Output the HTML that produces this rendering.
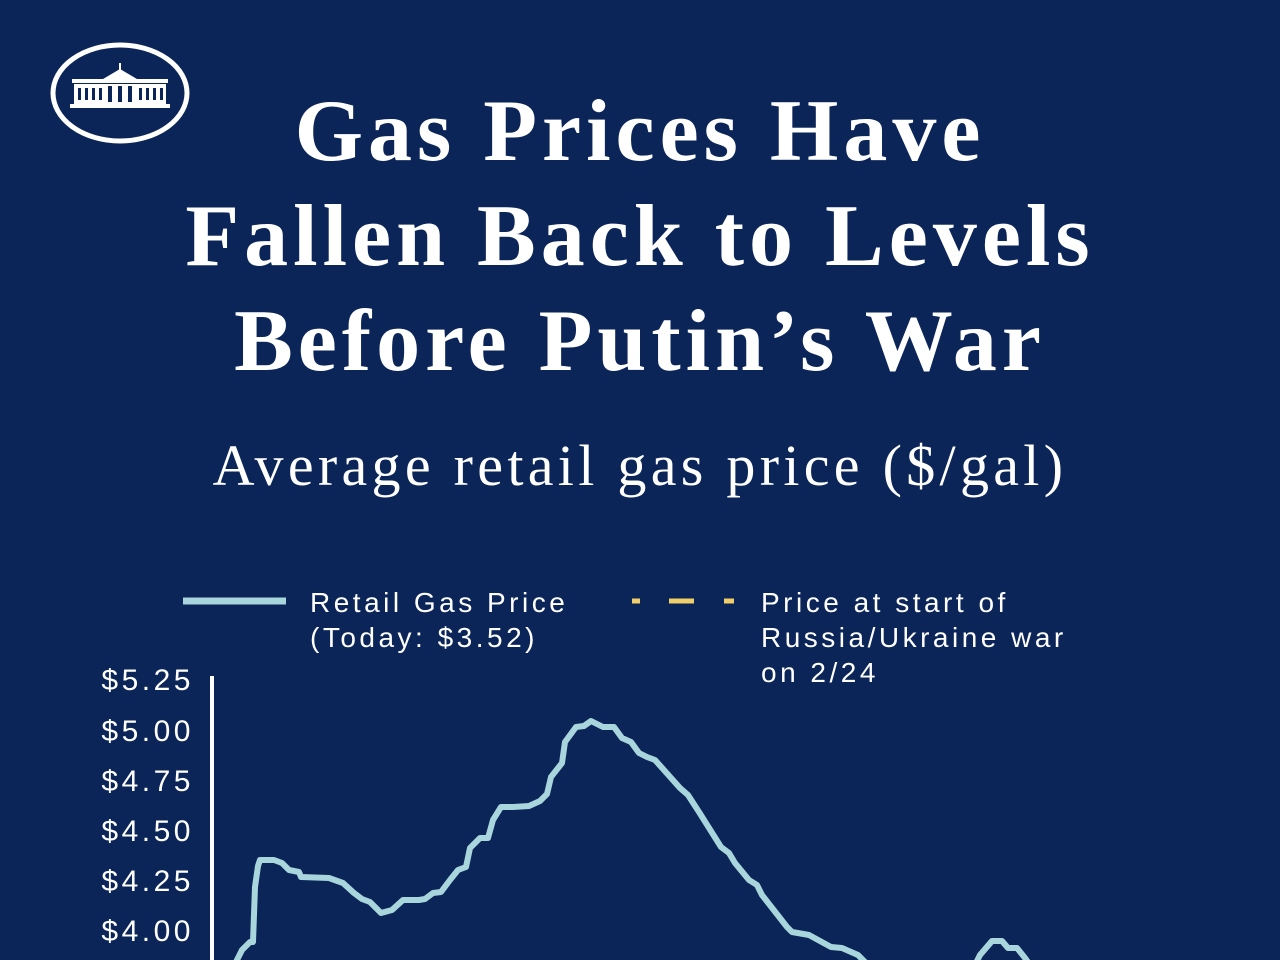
<!DOCTYPE html>
<html><head><meta charset="utf-8"><style>
body{margin:0;width:1280px;height:960px;background:#0b2559;overflow:hidden;position:relative;font-family:"Liberation Sans",sans-serif;color:#fff}
.t{position:absolute;left:0;width:1280px;text-align:center;font-family:"Liberation Serif",serif;font-weight:bold;font-size:88px;line-height:105px;top:79px;letter-spacing:5px}
.s{position:absolute;left:0;width:1280px;text-align:center;font-family:"Liberation Serif",serif;font-size:58px;top:432px;letter-spacing:4.3px}
.l{position:absolute;font-size:28px;letter-spacing:3.5px;line-height:35px}
.y{position:absolute;right:1086px;font-size:30px;letter-spacing:3.5px;text-align:right}
</style></head><body>
<svg style="position:absolute;left:0;top:0" width="1280" height="960">
<ellipse cx="120" cy="93" rx="67" ry="48" fill="none" stroke="#fff" stroke-width="5"/>
<g fill="#fff">
<rect x="72" y="79" width="96" height="4"/>
<rect x="74" y="84" width="92" height="20"/>
<rect x="70" y="104" width="100" height="4"/>
<polygon points="103,79 120,69 137,79"/>
<rect x="119" y="63" width="2" height="7"/>
</g>
<g fill="#0b2559">
<rect x="78" y="88" width="3" height="12"/><rect x="85" y="88" width="3" height="12"/><rect x="92" y="88" width="3" height="12"/><rect x="99" y="88" width="3" height="12"/>
<rect x="108" y="86" width="4" height="16"/><rect x="118" y="86" width="4" height="16"/><rect x="128" y="86" width="4" height="16"/>
<rect x="139" y="88" width="3" height="12"/><rect x="146" y="88" width="3" height="12"/><rect x="153" y="88" width="3" height="12"/><rect x="160" y="88" width="3" height="12"/>
</g>
<line x1="183" y1="601" x2="286" y2="601" stroke="#a9d6dc" stroke-width="7"/>
<g stroke="#f0cf6a" stroke-width="5">
<line x1="632" y1="601" x2="640" y2="601"/>
<line x1="669" y1="601" x2="694" y2="601"/>
<line x1="724" y1="601" x2="734" y2="601"/>
</g>
<line x1="212" y1="676" x2="212" y2="960" stroke="#fff" stroke-width="4"/>
<polyline fill="none" stroke="#a9d6dc" stroke-width="6" stroke-linejoin="round" points="236,962 242,950 250,942 253,942 255,887 258,866 260,860 274,860 282,863 289,870 299,872 301,877 329,878 343,883 354,893 362,899 370,902 381,913 392,910 403,900 419,900 425,899 433,893 441,892 450,880 458,870 466,867 470,848 480,838 488,838 493,820 501,807 513,807 529,806 540,801 547,794 551,777 562,763 565,742 576,727 584,726 591,721 603,727 614,727 622,738 631,742 639,753 647,757 655,760 680,788 688,795 699,812 721,847 729,853 735,863 749,880 757,885 762,895 787,927 792,932 809,935 831,947 842,948 858,955 866,963"/>
<polyline fill="none" stroke="#a9d6dc" stroke-width="6" stroke-linejoin="round" points="975,965 980,955 992,941 1002,941 1008,948 1017,948 1025,958 1030,965"/>
</svg>
<div class="t">Gas Prices Have<br>Fallen Back to Levels<br>Before Putin’s War</div>
<div class="s">Average retail gas price ($/gal)</div>
<div class="l" style="left:310px;top:585px">Retail Gas Price<br>(Today: $3.52)</div>
<div class="l" style="left:761px;top:585px">Price at start of<br>Russia/Ukraine war<br>on 2/24</div>
<div class="y" style="top:664px">$5.25</div>
<div class="y" style="top:715px">$5.00</div>
<div class="y" style="top:765px">$4.75</div>
<div class="y" style="top:815px">$4.50</div>
<div class="y" style="top:865px">$4.25</div>
<div class="y" style="top:915px">$4.00</div>
</body></html>
